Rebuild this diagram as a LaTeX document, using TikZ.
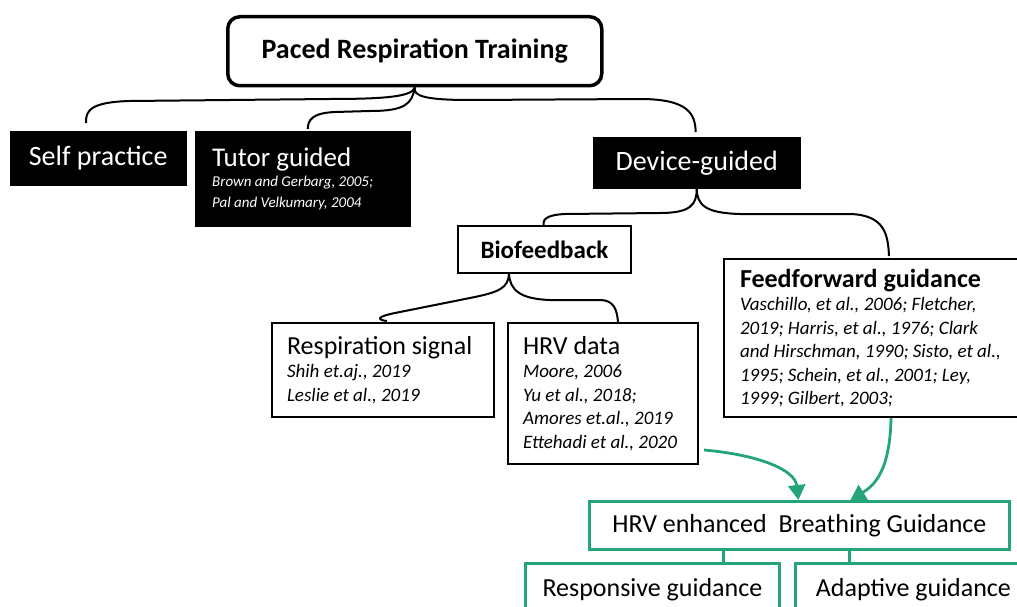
\documentclass[tikz,border=0pt]{standalone}
\usepackage{fontspec}
\setmainfont{Carlito}
\usepackage{tikz}
\usetikzlibrary{arrows.meta}

\definecolor{guidegreen}{RGB}{35,164,122}
\newcommand{\refsfont}{\fontsize{19}{23.5}\selectfont\itshape}
\newcommand{\titlefont}{\fontsize{26}{31}\selectfont\upshape}
\newcommand{\natsp}{\spaceskip=0pt\xspaceskip=0pt\relax}

\begin{document}
\begin{tikzpicture}[x=1pt, y=-1pt,
    blackbox/.style={draw=black, fill=black, text=white, anchor=north west, inner sep=0pt, font=\fontsize{28}{33}\selectfont},
    whitebox/.style={draw=black, line width=2pt, fill=white, anchor=north west, inner sep=0pt},
    refbox/.style={whitebox, align=left, font=\refsfont},
    greenbox/.style={draw=guidegreen, line width=2.8pt, anchor=north west, inner sep=0pt, font=\titlefont},
    brace/.style={line width=2pt},
    greenline/.style={draw=guidegreen, line width=2.8pt},
    greenarrow/.style={greenline, -{Triangle[length=15pt,width=17pt]}}]
      \useasboundingbox (0,0) rectangle (1017,607);

      % Top level
      \node[whitebox, line width=3.5pt, rounded corners=12pt, minimum width=374pt, minimum height=69pt,
            font=\fontsize{28}{33}\selectfont\bfseries] (pace) at (226,15) {Paced Respiration Training};
      \node[blackbox, minimum width=176pt, minimum height=54pt] (selfp) at (10,131) {Self practice};
      \node[blackbox, minimum width=215pt, minimum height=95pt, inner xsep=17pt, text width=181pt, align=left,
            font=\fontsize{15}{20.5}\selectfont\itshape] (tutor) at (195,131)
        {\natsp{\fontsize{27}{32}\selectfont\upshape Tutor guided}\\ Brown and Gerbarg, 2005;\\ Pal and Velkumary, 2004};
      \node[blackbox, minimum width=207pt, minimum height=51pt] (device) at (593,137) {Device-guided};

      % Device-guided branches
      \node[whitebox, minimum width=173pt, minimum height=47pt, font=\fontsize{25}{30}\selectfont\bfseries] (biofb) at (457,225) {Biofeedback};
      \node[refbox, minimum width=310pt, minimum height=158pt, inner xsep=16pt, text width=278pt] (ffwd) at (723,258)
        {\natsp{\fontsize{26}{31}\selectfont\upshape\bfseries Feedforward guidance}\\
         Vaschillo, et al., 2006; Fletcher,\\ 2019; Harris, et al., 1976; Clark\\ and Hirschman, 1990; Sisto, et al.,\\
         1995; Schein, et al., 2001; Ley,\\ 1999; Gilbert, 2003;};
      \node[refbox, minimum width=222pt, minimum height=94pt, inner xsep=15pt, text width=192pt] (resp) at (271,322)
        {\natsp{\titlefont Respiration signal}\\ Shih et.aj., 2019\\ Leslie et al., 2019};
      \node[refbox, minimum width=190pt, minimum height=141pt, inner xsep=15pt, text width=160pt] (hrv) at (507,322)
        {\natsp{\titlefont HRV data}\\ Moore, 2006\\ Yu et al., 2018;\\ Amores et.al., 2019\\ Ettehadi et al., 2020};

      % Green part
      \node[greenbox, minimum width=420pt, minimum height=48pt] (hrvg) at (588,500) {HRV enhanced~ Breathing Guidance};
      \node[greenbox, minimum width=254pt, minimum height=53pt] (respg) at (524,562) {Responsive guidance};
      \node[greenbox, minimum width=236pt, minimum height=53pt] (adaptg) at (794,562) {Adaptive guidance};

      % Braces
      \draw[brace] (pace.south) .. controls (412,96) and (390,99) .. (330,99) -- (130,101)
        .. controls (92,102) and (85,110) .. ([shift={(-12pt,8pt)}]selfp.north);
      \draw[brace] (pace.south) .. controls (412,104) and (405,111) .. (370,111) -- (335,112)
        .. controls (312,113) and (308,120) .. ([shift={(5pt,2pt)}]tutor.north);
      \draw[brace] (pace.south) .. controls (413,96) and (425,100) .. (470,100) -- (640,99)
        .. controls (690,99) and (695,115) .. ([shift={(-1pt,5pt)}]device.north);
      \draw[brace] (device.south) .. controls (697,205) and (690,213) .. (660,213) -- (565,214)
        .. controls (545,215) and (543,220) .. ([xshift=-1pt]biofb.north);
      \draw[brace] (device.south) .. controls (697,205) and (705,213) .. (740,214) -- (850,214)
        .. controls (885,215) and (888,235) .. ([shift={(10pt,2pt)}]ffwd.north);
      \draw[brace] ([xshift=-35.5pt]biofb.south) .. controls (508,288) and (500,292) .. (470,298) -- (395,313)
        .. controls (375,317) and (378,320) .. ([shift={(4pt,1pt)}]resp.north);
      \draw[brace] ([xshift=-35.5pt]biofb.south) .. controls (510,290) and (520,299) .. (550,300) -- (600,300)
        .. controls (614,300) and (617,310) .. ([xshift=15pt]hrv.north);

      % Green arrows and links
      \draw[greenarrow] ([shift={(5pt,15pt)}]hrv.south east) .. controls (760,455) and (795,470) .. ([xshift=-1pt]hrvg.north);
      \draw[greenarrow] ([xshift=12pt]ffwd.south) .. controls (890,470) and (875,485) .. ([xshift=51pt]hrvg.north);
      \draw[greenline] ([xshift=-76pt]hrvg.south) -- ([xshift=71pt]respg.north);
      \draw[greenline] ([xshift=50pt]hrvg.south) -- ([xshift=-64pt]adaptg.north);
    \end{tikzpicture}
\end{document}
